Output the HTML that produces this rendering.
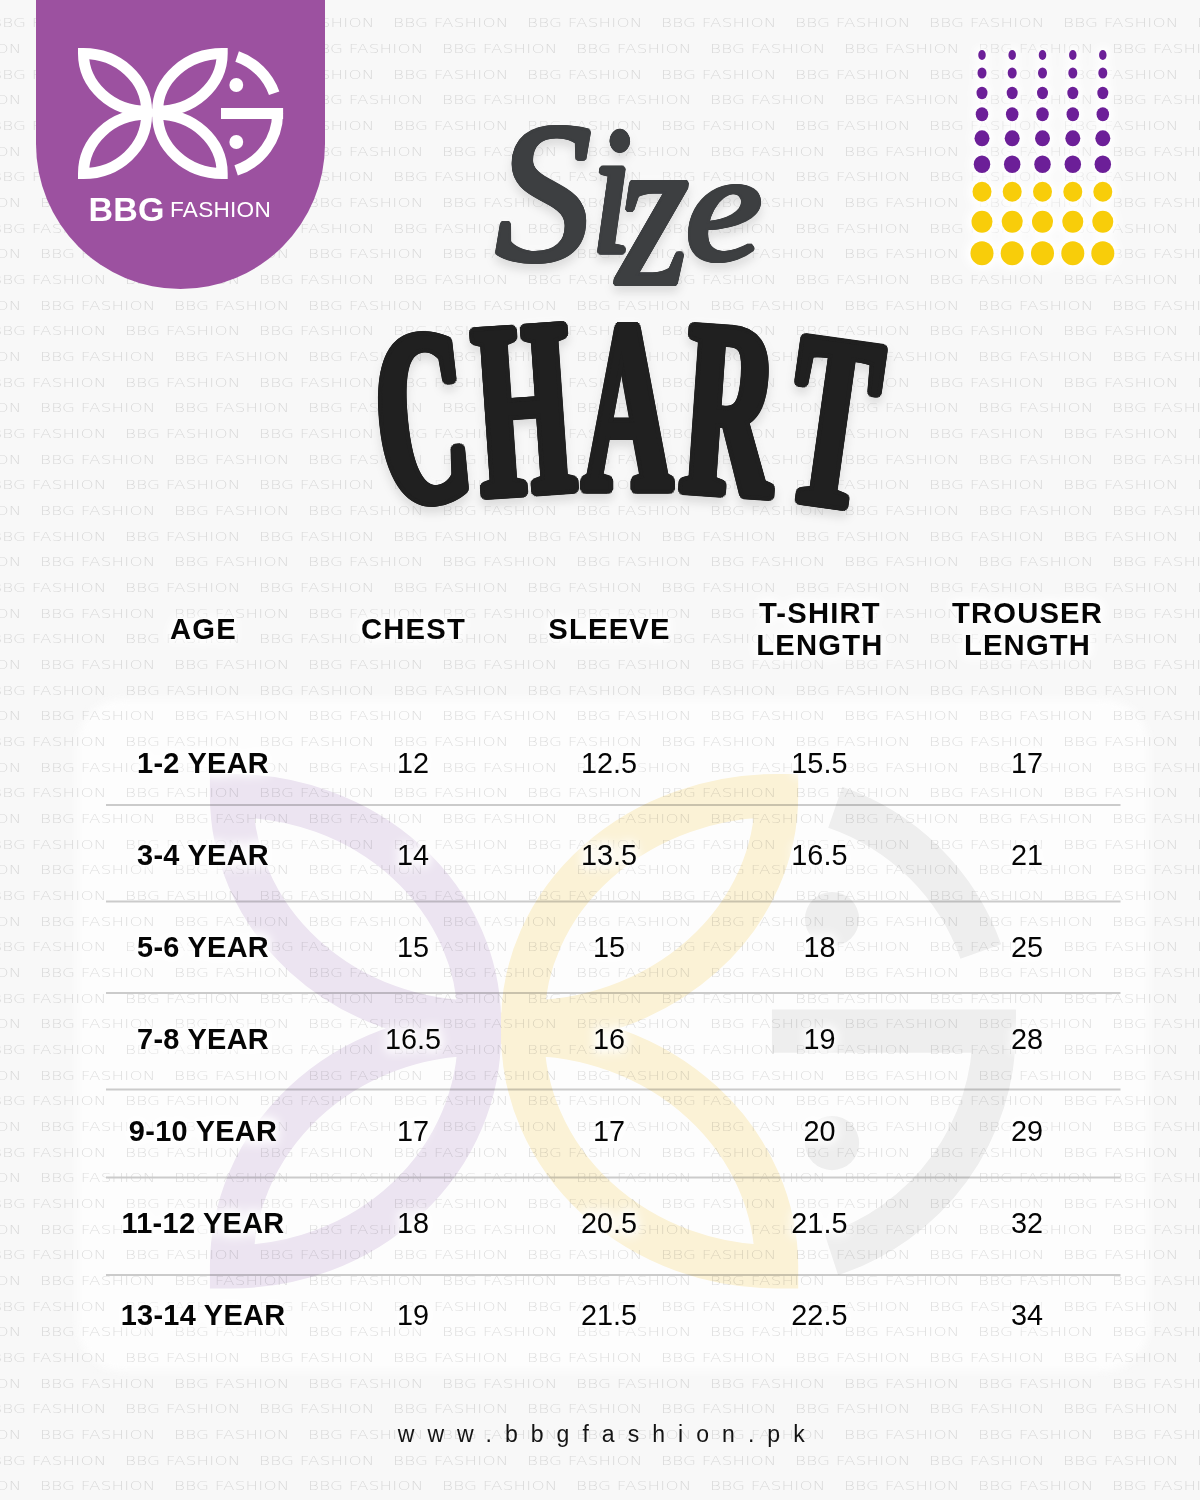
<!DOCTYPE html>
<html><head><meta charset="utf-8"><title>Size Chart - BBG Fashion</title>
<style>
html,body{margin:0;padding:0;}
body{width:1200px;height:1500px;overflow:hidden;background:#f8f8f8;position:relative;font-family:"Liberation Sans",Arial,sans-serif;}
.wm{position:absolute;left:0;top:0;width:1200px;height:1500px;overflow:hidden;}
.wr{position:absolute;left:0;width:1200px;height:16px;}
.wr span{position:absolute;top:0;font-family:"DejaVu Sans",sans-serif;font-size:12.9px;line-height:15px;letter-spacing:0.15px;color:rgba(0,0,0,0.13);font-weight:200;transform:scaleX(1.3);transform-origin:0 0;white-space:nowrap;}
.panel{position:absolute;left:77px;top:699px;width:1072px;height:672px;border-radius:46px;background:#fdfdfd;filter:blur(4px);}
.tab{position:absolute;left:36px;top:-2px;width:289px;height:291px;background:#9c51a0;border-radius:0 0 144.5px 144.5px / 0 0 145px 145px;}
.brand{position:absolute;left:88.6px;top:189px;white-space:nowrap;line-height:40px;color:#fff;font-size:22.6px;}
.brand b{font-size:34px;letter-spacing:0.2px;}
.brand span{font-size:22.6px;letter-spacing:0.25px;position:relative;top:-4.4px;margin-left:-1px;}
.b1{position:absolute;left:88.6px;top:189px;font-weight:bold;font-size:34px;line-height:40px;color:#fff;white-space:nowrap;letter-spacing:0.2px;}
.b2{position:absolute;left:171px;top:195px;font-size:22.6px;line-height:30px;color:#fff;letter-spacing:0.25px;white-space:nowrap;}
.url{position:absolute;left:0;width:1200px;top:1420px;text-align:center;font-size:23px;line-height:28px;letter-spacing:13.05px;color:#141414;padding-left:15.5px;box-sizing:border-box;}
svg{position:absolute;left:0;top:0;}
.ttl{position:absolute;left:0;top:0;width:1200px;height:600px;filter:drop-shadow(0 6px 5px rgba(0,0,0,0.13)) drop-shadow(0 0 5px rgba(255,255,255,0.95));}
.ttl h1,.ttl h2{position:absolute;left:0;top:0;margin:0;padding:0;font-size:100px;line-height:100px;white-space:nowrap;font-family:"Liberation Serif",serif;}
.ttl h1{font-style:italic;font-weight:normal;color:#3d3f41;}
.ttl h2{font-style:normal;font-weight:bold;color:#202020;}
.ttl span{display:inline-block;width:0;height:100px;vertical-align:top;transform-origin:0 0;}
</style></head><body>
<div class="panel"></div>
<div class="wm">
<div class="wr" style="top:15.2px"><span style="left:-142.7px">BBG FASHION</span><span style="left:-8.7px">BBG FASHION</span><span style="left:125.3px">BBG FASHION</span><span style="left:259.3px">BBG FASHION</span><span style="left:393.3px">BBG FASHION</span><span style="left:527.3px">BBG FASHION</span><span style="left:661.3px">BBG FASHION</span><span style="left:795.3px">BBG FASHION</span><span style="left:929.3px">BBG FASHION</span><span style="left:1063.3px">BBG FASHION</span><span style="left:1197.3px">BBG FASHION</span></div>
<div class="wr" style="top:40.9px"><span style="left:-228.3px">BBG FASHION</span><span style="left:-94.3px">BBG FASHION</span><span style="left:39.7px">BBG FASHION</span><span style="left:173.7px">BBG FASHION</span><span style="left:307.7px">BBG FASHION</span><span style="left:441.7px">BBG FASHION</span><span style="left:575.7px">BBG FASHION</span><span style="left:709.7px">BBG FASHION</span><span style="left:843.7px">BBG FASHION</span><span style="left:977.7px">BBG FASHION</span><span style="left:1111.7px">BBG FASHION</span></div>
<div class="wr" style="top:66.5px"><span style="left:-142.7px">BBG FASHION</span><span style="left:-8.7px">BBG FASHION</span><span style="left:125.3px">BBG FASHION</span><span style="left:259.3px">BBG FASHION</span><span style="left:393.3px">BBG FASHION</span><span style="left:527.3px">BBG FASHION</span><span style="left:661.3px">BBG FASHION</span><span style="left:795.3px">BBG FASHION</span><span style="left:929.3px">BBG FASHION</span><span style="left:1063.3px">BBG FASHION</span><span style="left:1197.3px">BBG FASHION</span></div>
<div class="wr" style="top:92.2px"><span style="left:-228.3px">BBG FASHION</span><span style="left:-94.3px">BBG FASHION</span><span style="left:39.7px">BBG FASHION</span><span style="left:173.7px">BBG FASHION</span><span style="left:307.7px">BBG FASHION</span><span style="left:441.7px">BBG FASHION</span><span style="left:575.7px">BBG FASHION</span><span style="left:709.7px">BBG FASHION</span><span style="left:843.7px">BBG FASHION</span><span style="left:977.7px">BBG FASHION</span><span style="left:1111.7px">BBG FASHION</span></div>
<div class="wr" style="top:117.9px"><span style="left:-142.7px">BBG FASHION</span><span style="left:-8.7px">BBG FASHION</span><span style="left:125.3px">BBG FASHION</span><span style="left:259.3px">BBG FASHION</span><span style="left:393.3px">BBG FASHION</span><span style="left:527.3px">BBG FASHION</span><span style="left:661.3px">BBG FASHION</span><span style="left:795.3px">BBG FASHION</span><span style="left:929.3px">BBG FASHION</span><span style="left:1063.3px">BBG FASHION</span><span style="left:1197.3px">BBG FASHION</span></div>
<div class="wr" style="top:143.6px"><span style="left:-228.3px">BBG FASHION</span><span style="left:-94.3px">BBG FASHION</span><span style="left:39.7px">BBG FASHION</span><span style="left:173.7px">BBG FASHION</span><span style="left:307.7px">BBG FASHION</span><span style="left:441.7px">BBG FASHION</span><span style="left:575.7px">BBG FASHION</span><span style="left:709.7px">BBG FASHION</span><span style="left:843.7px">BBG FASHION</span><span style="left:977.7px">BBG FASHION</span><span style="left:1111.7px">BBG FASHION</span></div>
<div class="wr" style="top:169.2px"><span style="left:-142.7px">BBG FASHION</span><span style="left:-8.7px">BBG FASHION</span><span style="left:125.3px">BBG FASHION</span><span style="left:259.3px">BBG FASHION</span><span style="left:393.3px">BBG FASHION</span><span style="left:527.3px">BBG FASHION</span><span style="left:661.3px">BBG FASHION</span><span style="left:795.3px">BBG FASHION</span><span style="left:929.3px">BBG FASHION</span><span style="left:1063.3px">BBG FASHION</span><span style="left:1197.3px">BBG FASHION</span></div>
<div class="wr" style="top:194.9px"><span style="left:-228.3px">BBG FASHION</span><span style="left:-94.3px">BBG FASHION</span><span style="left:39.7px">BBG FASHION</span><span style="left:173.7px">BBG FASHION</span><span style="left:307.7px">BBG FASHION</span><span style="left:441.7px">BBG FASHION</span><span style="left:575.7px">BBG FASHION</span><span style="left:709.7px">BBG FASHION</span><span style="left:843.7px">BBG FASHION</span><span style="left:977.7px">BBG FASHION</span><span style="left:1111.7px">BBG FASHION</span></div>
<div class="wr" style="top:220.6px"><span style="left:-142.7px">BBG FASHION</span><span style="left:-8.7px">BBG FASHION</span><span style="left:125.3px">BBG FASHION</span><span style="left:259.3px">BBG FASHION</span><span style="left:393.3px">BBG FASHION</span><span style="left:527.3px">BBG FASHION</span><span style="left:661.3px">BBG FASHION</span><span style="left:795.3px">BBG FASHION</span><span style="left:929.3px">BBG FASHION</span><span style="left:1063.3px">BBG FASHION</span><span style="left:1197.3px">BBG FASHION</span></div>
<div class="wr" style="top:246.2px"><span style="left:-228.3px">BBG FASHION</span><span style="left:-94.3px">BBG FASHION</span><span style="left:39.7px">BBG FASHION</span><span style="left:173.7px">BBG FASHION</span><span style="left:307.7px">BBG FASHION</span><span style="left:441.7px">BBG FASHION</span><span style="left:575.7px">BBG FASHION</span><span style="left:709.7px">BBG FASHION</span><span style="left:843.7px">BBG FASHION</span><span style="left:977.7px">BBG FASHION</span><span style="left:1111.7px">BBG FASHION</span></div>
<div class="wr" style="top:271.9px"><span style="left:-142.7px">BBG FASHION</span><span style="left:-8.7px">BBG FASHION</span><span style="left:125.3px">BBG FASHION</span><span style="left:259.3px">BBG FASHION</span><span style="left:393.3px">BBG FASHION</span><span style="left:527.3px">BBG FASHION</span><span style="left:661.3px">BBG FASHION</span><span style="left:795.3px">BBG FASHION</span><span style="left:929.3px">BBG FASHION</span><span style="left:1063.3px">BBG FASHION</span><span style="left:1197.3px">BBG FASHION</span></div>
<div class="wr" style="top:297.6px"><span style="left:-228.3px">BBG FASHION</span><span style="left:-94.3px">BBG FASHION</span><span style="left:39.7px">BBG FASHION</span><span style="left:173.7px">BBG FASHION</span><span style="left:307.7px">BBG FASHION</span><span style="left:441.7px">BBG FASHION</span><span style="left:575.7px">BBG FASHION</span><span style="left:709.7px">BBG FASHION</span><span style="left:843.7px">BBG FASHION</span><span style="left:977.7px">BBG FASHION</span><span style="left:1111.7px">BBG FASHION</span></div>
<div class="wr" style="top:323.2px"><span style="left:-142.7px">BBG FASHION</span><span style="left:-8.7px">BBG FASHION</span><span style="left:125.3px">BBG FASHION</span><span style="left:259.3px">BBG FASHION</span><span style="left:393.3px">BBG FASHION</span><span style="left:527.3px">BBG FASHION</span><span style="left:661.3px">BBG FASHION</span><span style="left:795.3px">BBG FASHION</span><span style="left:929.3px">BBG FASHION</span><span style="left:1063.3px">BBG FASHION</span><span style="left:1197.3px">BBG FASHION</span></div>
<div class="wr" style="top:348.9px"><span style="left:-228.3px">BBG FASHION</span><span style="left:-94.3px">BBG FASHION</span><span style="left:39.7px">BBG FASHION</span><span style="left:173.7px">BBG FASHION</span><span style="left:307.7px">BBG FASHION</span><span style="left:441.7px">BBG FASHION</span><span style="left:575.7px">BBG FASHION</span><span style="left:709.7px">BBG FASHION</span><span style="left:843.7px">BBG FASHION</span><span style="left:977.7px">BBG FASHION</span><span style="left:1111.7px">BBG FASHION</span></div>
<div class="wr" style="top:374.6px"><span style="left:-142.7px">BBG FASHION</span><span style="left:-8.7px">BBG FASHION</span><span style="left:125.3px">BBG FASHION</span><span style="left:259.3px">BBG FASHION</span><span style="left:393.3px">BBG FASHION</span><span style="left:527.3px">BBG FASHION</span><span style="left:661.3px">BBG FASHION</span><span style="left:795.3px">BBG FASHION</span><span style="left:929.3px">BBG FASHION</span><span style="left:1063.3px">BBG FASHION</span><span style="left:1197.3px">BBG FASHION</span></div>
<div class="wr" style="top:400.2px"><span style="left:-228.3px">BBG FASHION</span><span style="left:-94.3px">BBG FASHION</span><span style="left:39.7px">BBG FASHION</span><span style="left:173.7px">BBG FASHION</span><span style="left:307.7px">BBG FASHION</span><span style="left:441.7px">BBG FASHION</span><span style="left:575.7px">BBG FASHION</span><span style="left:709.7px">BBG FASHION</span><span style="left:843.7px">BBG FASHION</span><span style="left:977.7px">BBG FASHION</span><span style="left:1111.7px">BBG FASHION</span></div>
<div class="wr" style="top:425.9px"><span style="left:-142.7px">BBG FASHION</span><span style="left:-8.7px">BBG FASHION</span><span style="left:125.3px">BBG FASHION</span><span style="left:259.3px">BBG FASHION</span><span style="left:393.3px">BBG FASHION</span><span style="left:527.3px">BBG FASHION</span><span style="left:661.3px">BBG FASHION</span><span style="left:795.3px">BBG FASHION</span><span style="left:929.3px">BBG FASHION</span><span style="left:1063.3px">BBG FASHION</span><span style="left:1197.3px">BBG FASHION</span></div>
<div class="wr" style="top:451.6px"><span style="left:-228.3px">BBG FASHION</span><span style="left:-94.3px">BBG FASHION</span><span style="left:39.7px">BBG FASHION</span><span style="left:173.7px">BBG FASHION</span><span style="left:307.7px">BBG FASHION</span><span style="left:441.7px">BBG FASHION</span><span style="left:575.7px">BBG FASHION</span><span style="left:709.7px">BBG FASHION</span><span style="left:843.7px">BBG FASHION</span><span style="left:977.7px">BBG FASHION</span><span style="left:1111.7px">BBG FASHION</span></div>
<div class="wr" style="top:477.3px"><span style="left:-142.7px">BBG FASHION</span><span style="left:-8.7px">BBG FASHION</span><span style="left:125.3px">BBG FASHION</span><span style="left:259.3px">BBG FASHION</span><span style="left:393.3px">BBG FASHION</span><span style="left:527.3px">BBG FASHION</span><span style="left:661.3px">BBG FASHION</span><span style="left:795.3px">BBG FASHION</span><span style="left:929.3px">BBG FASHION</span><span style="left:1063.3px">BBG FASHION</span><span style="left:1197.3px">BBG FASHION</span></div>
<div class="wr" style="top:502.9px"><span style="left:-228.3px">BBG FASHION</span><span style="left:-94.3px">BBG FASHION</span><span style="left:39.7px">BBG FASHION</span><span style="left:173.7px">BBG FASHION</span><span style="left:307.7px">BBG FASHION</span><span style="left:441.7px">BBG FASHION</span><span style="left:575.7px">BBG FASHION</span><span style="left:709.7px">BBG FASHION</span><span style="left:843.7px">BBG FASHION</span><span style="left:977.7px">BBG FASHION</span><span style="left:1111.7px">BBG FASHION</span></div>
<div class="wr" style="top:528.6px"><span style="left:-142.7px">BBG FASHION</span><span style="left:-8.7px">BBG FASHION</span><span style="left:125.3px">BBG FASHION</span><span style="left:259.3px">BBG FASHION</span><span style="left:393.3px">BBG FASHION</span><span style="left:527.3px">BBG FASHION</span><span style="left:661.3px">BBG FASHION</span><span style="left:795.3px">BBG FASHION</span><span style="left:929.3px">BBG FASHION</span><span style="left:1063.3px">BBG FASHION</span><span style="left:1197.3px">BBG FASHION</span></div>
<div class="wr" style="top:554.3px"><span style="left:-228.3px">BBG FASHION</span><span style="left:-94.3px">BBG FASHION</span><span style="left:39.7px">BBG FASHION</span><span style="left:173.7px">BBG FASHION</span><span style="left:307.7px">BBG FASHION</span><span style="left:441.7px">BBG FASHION</span><span style="left:575.7px">BBG FASHION</span><span style="left:709.7px">BBG FASHION</span><span style="left:843.7px">BBG FASHION</span><span style="left:977.7px">BBG FASHION</span><span style="left:1111.7px">BBG FASHION</span></div>
<div class="wr" style="top:579.9px"><span style="left:-142.7px">BBG FASHION</span><span style="left:-8.7px">BBG FASHION</span><span style="left:125.3px">BBG FASHION</span><span style="left:259.3px">BBG FASHION</span><span style="left:393.3px">BBG FASHION</span><span style="left:527.3px">BBG FASHION</span><span style="left:661.3px">BBG FASHION</span><span style="left:795.3px">BBG FASHION</span><span style="left:929.3px">BBG FASHION</span><span style="left:1063.3px">BBG FASHION</span><span style="left:1197.3px">BBG FASHION</span></div>
<div class="wr" style="top:605.6px"><span style="left:-228.3px">BBG FASHION</span><span style="left:-94.3px">BBG FASHION</span><span style="left:39.7px">BBG FASHION</span><span style="left:173.7px">BBG FASHION</span><span style="left:307.7px">BBG FASHION</span><span style="left:441.7px">BBG FASHION</span><span style="left:575.7px">BBG FASHION</span><span style="left:709.7px">BBG FASHION</span><span style="left:843.7px">BBG FASHION</span><span style="left:977.7px">BBG FASHION</span><span style="left:1111.7px">BBG FASHION</span></div>
<div class="wr" style="top:631.3px"><span style="left:-142.7px">BBG FASHION</span><span style="left:-8.7px">BBG FASHION</span><span style="left:125.3px">BBG FASHION</span><span style="left:259.3px">BBG FASHION</span><span style="left:393.3px">BBG FASHION</span><span style="left:527.3px">BBG FASHION</span><span style="left:661.3px">BBG FASHION</span><span style="left:795.3px">BBG FASHION</span><span style="left:929.3px">BBG FASHION</span><span style="left:1063.3px">BBG FASHION</span><span style="left:1197.3px">BBG FASHION</span></div>
<div class="wr" style="top:657.0px"><span style="left:-228.3px">BBG FASHION</span><span style="left:-94.3px">BBG FASHION</span><span style="left:39.7px">BBG FASHION</span><span style="left:173.7px">BBG FASHION</span><span style="left:307.7px">BBG FASHION</span><span style="left:441.7px">BBG FASHION</span><span style="left:575.7px">BBG FASHION</span><span style="left:709.7px">BBG FASHION</span><span style="left:843.7px">BBG FASHION</span><span style="left:977.7px">BBG FASHION</span><span style="left:1111.7px">BBG FASHION</span></div>
<div class="wr" style="top:682.6px"><span style="left:-142.7px">BBG FASHION</span><span style="left:-8.7px">BBG FASHION</span><span style="left:125.3px">BBG FASHION</span><span style="left:259.3px">BBG FASHION</span><span style="left:393.3px">BBG FASHION</span><span style="left:527.3px">BBG FASHION</span><span style="left:661.3px">BBG FASHION</span><span style="left:795.3px">BBG FASHION</span><span style="left:929.3px">BBG FASHION</span><span style="left:1063.3px">BBG FASHION</span><span style="left:1197.3px">BBG FASHION</span></div>
<div class="wr" style="top:708.3px"><span style="left:-228.3px">BBG FASHION</span><span style="left:-94.3px">BBG FASHION</span><span style="left:39.7px">BBG FASHION</span><span style="left:173.7px">BBG FASHION</span><span style="left:307.7px">BBG FASHION</span><span style="left:441.7px">BBG FASHION</span><span style="left:575.7px">BBG FASHION</span><span style="left:709.7px">BBG FASHION</span><span style="left:843.7px">BBG FASHION</span><span style="left:977.7px">BBG FASHION</span><span style="left:1111.7px">BBG FASHION</span></div>
<div class="wr" style="top:734.0px"><span style="left:-142.7px">BBG FASHION</span><span style="left:-8.7px">BBG FASHION</span><span style="left:125.3px">BBG FASHION</span><span style="left:259.3px">BBG FASHION</span><span style="left:393.3px">BBG FASHION</span><span style="left:527.3px">BBG FASHION</span><span style="left:661.3px">BBG FASHION</span><span style="left:795.3px">BBG FASHION</span><span style="left:929.3px">BBG FASHION</span><span style="left:1063.3px">BBG FASHION</span><span style="left:1197.3px">BBG FASHION</span></div>
<div class="wr" style="top:759.6px"><span style="left:-228.3px">BBG FASHION</span><span style="left:-94.3px">BBG FASHION</span><span style="left:39.7px">BBG FASHION</span><span style="left:173.7px">BBG FASHION</span><span style="left:307.7px">BBG FASHION</span><span style="left:441.7px">BBG FASHION</span><span style="left:575.7px">BBG FASHION</span><span style="left:709.7px">BBG FASHION</span><span style="left:843.7px">BBG FASHION</span><span style="left:977.7px">BBG FASHION</span><span style="left:1111.7px">BBG FASHION</span></div>
<div class="wr" style="top:785.3px"><span style="left:-142.7px">BBG FASHION</span><span style="left:-8.7px">BBG FASHION</span><span style="left:125.3px">BBG FASHION</span><span style="left:259.3px">BBG FASHION</span><span style="left:393.3px">BBG FASHION</span><span style="left:527.3px">BBG FASHION</span><span style="left:661.3px">BBG FASHION</span><span style="left:795.3px">BBG FASHION</span><span style="left:929.3px">BBG FASHION</span><span style="left:1063.3px">BBG FASHION</span><span style="left:1197.3px">BBG FASHION</span></div>
<div class="wr" style="top:811.0px"><span style="left:-228.3px">BBG FASHION</span><span style="left:-94.3px">BBG FASHION</span><span style="left:39.7px">BBG FASHION</span><span style="left:173.7px">BBG FASHION</span><span style="left:307.7px">BBG FASHION</span><span style="left:441.7px">BBG FASHION</span><span style="left:575.7px">BBG FASHION</span><span style="left:709.7px">BBG FASHION</span><span style="left:843.7px">BBG FASHION</span><span style="left:977.7px">BBG FASHION</span><span style="left:1111.7px">BBG FASHION</span></div>
<div class="wr" style="top:836.6px"><span style="left:-142.7px">BBG FASHION</span><span style="left:-8.7px">BBG FASHION</span><span style="left:125.3px">BBG FASHION</span><span style="left:259.3px">BBG FASHION</span><span style="left:393.3px">BBG FASHION</span><span style="left:527.3px">BBG FASHION</span><span style="left:661.3px">BBG FASHION</span><span style="left:795.3px">BBG FASHION</span><span style="left:929.3px">BBG FASHION</span><span style="left:1063.3px">BBG FASHION</span><span style="left:1197.3px">BBG FASHION</span></div>
<div class="wr" style="top:862.3px"><span style="left:-228.3px">BBG FASHION</span><span style="left:-94.3px">BBG FASHION</span><span style="left:39.7px">BBG FASHION</span><span style="left:173.7px">BBG FASHION</span><span style="left:307.7px">BBG FASHION</span><span style="left:441.7px">BBG FASHION</span><span style="left:575.7px">BBG FASHION</span><span style="left:709.7px">BBG FASHION</span><span style="left:843.7px">BBG FASHION</span><span style="left:977.7px">BBG FASHION</span><span style="left:1111.7px">BBG FASHION</span></div>
<div class="wr" style="top:888.0px"><span style="left:-142.7px">BBG FASHION</span><span style="left:-8.7px">BBG FASHION</span><span style="left:125.3px">BBG FASHION</span><span style="left:259.3px">BBG FASHION</span><span style="left:393.3px">BBG FASHION</span><span style="left:527.3px">BBG FASHION</span><span style="left:661.3px">BBG FASHION</span><span style="left:795.3px">BBG FASHION</span><span style="left:929.3px">BBG FASHION</span><span style="left:1063.3px">BBG FASHION</span><span style="left:1197.3px">BBG FASHION</span></div>
<div class="wr" style="top:913.7px"><span style="left:-228.3px">BBG FASHION</span><span style="left:-94.3px">BBG FASHION</span><span style="left:39.7px">BBG FASHION</span><span style="left:173.7px">BBG FASHION</span><span style="left:307.7px">BBG FASHION</span><span style="left:441.7px">BBG FASHION</span><span style="left:575.7px">BBG FASHION</span><span style="left:709.7px">BBG FASHION</span><span style="left:843.7px">BBG FASHION</span><span style="left:977.7px">BBG FASHION</span><span style="left:1111.7px">BBG FASHION</span></div>
<div class="wr" style="top:939.3px"><span style="left:-142.7px">BBG FASHION</span><span style="left:-8.7px">BBG FASHION</span><span style="left:125.3px">BBG FASHION</span><span style="left:259.3px">BBG FASHION</span><span style="left:393.3px">BBG FASHION</span><span style="left:527.3px">BBG FASHION</span><span style="left:661.3px">BBG FASHION</span><span style="left:795.3px">BBG FASHION</span><span style="left:929.3px">BBG FASHION</span><span style="left:1063.3px">BBG FASHION</span><span style="left:1197.3px">BBG FASHION</span></div>
<div class="wr" style="top:965.0px"><span style="left:-228.3px">BBG FASHION</span><span style="left:-94.3px">BBG FASHION</span><span style="left:39.7px">BBG FASHION</span><span style="left:173.7px">BBG FASHION</span><span style="left:307.7px">BBG FASHION</span><span style="left:441.7px">BBG FASHION</span><span style="left:575.7px">BBG FASHION</span><span style="left:709.7px">BBG FASHION</span><span style="left:843.7px">BBG FASHION</span><span style="left:977.7px">BBG FASHION</span><span style="left:1111.7px">BBG FASHION</span></div>
<div class="wr" style="top:990.7px"><span style="left:-142.7px">BBG FASHION</span><span style="left:-8.7px">BBG FASHION</span><span style="left:125.3px">BBG FASHION</span><span style="left:259.3px">BBG FASHION</span><span style="left:393.3px">BBG FASHION</span><span style="left:527.3px">BBG FASHION</span><span style="left:661.3px">BBG FASHION</span><span style="left:795.3px">BBG FASHION</span><span style="left:929.3px">BBG FASHION</span><span style="left:1063.3px">BBG FASHION</span><span style="left:1197.3px">BBG FASHION</span></div>
<div class="wr" style="top:1016.3px"><span style="left:-228.3px">BBG FASHION</span><span style="left:-94.3px">BBG FASHION</span><span style="left:39.7px">BBG FASHION</span><span style="left:173.7px">BBG FASHION</span><span style="left:307.7px">BBG FASHION</span><span style="left:441.7px">BBG FASHION</span><span style="left:575.7px">BBG FASHION</span><span style="left:709.7px">BBG FASHION</span><span style="left:843.7px">BBG FASHION</span><span style="left:977.7px">BBG FASHION</span><span style="left:1111.7px">BBG FASHION</span></div>
<div class="wr" style="top:1042.0px"><span style="left:-142.7px">BBG FASHION</span><span style="left:-8.7px">BBG FASHION</span><span style="left:125.3px">BBG FASHION</span><span style="left:259.3px">BBG FASHION</span><span style="left:393.3px">BBG FASHION</span><span style="left:527.3px">BBG FASHION</span><span style="left:661.3px">BBG FASHION</span><span style="left:795.3px">BBG FASHION</span><span style="left:929.3px">BBG FASHION</span><span style="left:1063.3px">BBG FASHION</span><span style="left:1197.3px">BBG FASHION</span></div>
<div class="wr" style="top:1067.7px"><span style="left:-228.3px">BBG FASHION</span><span style="left:-94.3px">BBG FASHION</span><span style="left:39.7px">BBG FASHION</span><span style="left:173.7px">BBG FASHION</span><span style="left:307.7px">BBG FASHION</span><span style="left:441.7px">BBG FASHION</span><span style="left:575.7px">BBG FASHION</span><span style="left:709.7px">BBG FASHION</span><span style="left:843.7px">BBG FASHION</span><span style="left:977.7px">BBG FASHION</span><span style="left:1111.7px">BBG FASHION</span></div>
<div class="wr" style="top:1093.3px"><span style="left:-142.7px">BBG FASHION</span><span style="left:-8.7px">BBG FASHION</span><span style="left:125.3px">BBG FASHION</span><span style="left:259.3px">BBG FASHION</span><span style="left:393.3px">BBG FASHION</span><span style="left:527.3px">BBG FASHION</span><span style="left:661.3px">BBG FASHION</span><span style="left:795.3px">BBG FASHION</span><span style="left:929.3px">BBG FASHION</span><span style="left:1063.3px">BBG FASHION</span><span style="left:1197.3px">BBG FASHION</span></div>
<div class="wr" style="top:1119.0px"><span style="left:-228.3px">BBG FASHION</span><span style="left:-94.3px">BBG FASHION</span><span style="left:39.7px">BBG FASHION</span><span style="left:173.7px">BBG FASHION</span><span style="left:307.7px">BBG FASHION</span><span style="left:441.7px">BBG FASHION</span><span style="left:575.7px">BBG FASHION</span><span style="left:709.7px">BBG FASHION</span><span style="left:843.7px">BBG FASHION</span><span style="left:977.7px">BBG FASHION</span><span style="left:1111.7px">BBG FASHION</span></div>
<div class="wr" style="top:1144.7px"><span style="left:-142.7px">BBG FASHION</span><span style="left:-8.7px">BBG FASHION</span><span style="left:125.3px">BBG FASHION</span><span style="left:259.3px">BBG FASHION</span><span style="left:393.3px">BBG FASHION</span><span style="left:527.3px">BBG FASHION</span><span style="left:661.3px">BBG FASHION</span><span style="left:795.3px">BBG FASHION</span><span style="left:929.3px">BBG FASHION</span><span style="left:1063.3px">BBG FASHION</span><span style="left:1197.3px">BBG FASHION</span></div>
<div class="wr" style="top:1170.4px"><span style="left:-228.3px">BBG FASHION</span><span style="left:-94.3px">BBG FASHION</span><span style="left:39.7px">BBG FASHION</span><span style="left:173.7px">BBG FASHION</span><span style="left:307.7px">BBG FASHION</span><span style="left:441.7px">BBG FASHION</span><span style="left:575.7px">BBG FASHION</span><span style="left:709.7px">BBG FASHION</span><span style="left:843.7px">BBG FASHION</span><span style="left:977.7px">BBG FASHION</span><span style="left:1111.7px">BBG FASHION</span></div>
<div class="wr" style="top:1196.0px"><span style="left:-142.7px">BBG FASHION</span><span style="left:-8.7px">BBG FASHION</span><span style="left:125.3px">BBG FASHION</span><span style="left:259.3px">BBG FASHION</span><span style="left:393.3px">BBG FASHION</span><span style="left:527.3px">BBG FASHION</span><span style="left:661.3px">BBG FASHION</span><span style="left:795.3px">BBG FASHION</span><span style="left:929.3px">BBG FASHION</span><span style="left:1063.3px">BBG FASHION</span><span style="left:1197.3px">BBG FASHION</span></div>
<div class="wr" style="top:1221.7px"><span style="left:-228.3px">BBG FASHION</span><span style="left:-94.3px">BBG FASHION</span><span style="left:39.7px">BBG FASHION</span><span style="left:173.7px">BBG FASHION</span><span style="left:307.7px">BBG FASHION</span><span style="left:441.7px">BBG FASHION</span><span style="left:575.7px">BBG FASHION</span><span style="left:709.7px">BBG FASHION</span><span style="left:843.7px">BBG FASHION</span><span style="left:977.7px">BBG FASHION</span><span style="left:1111.7px">BBG FASHION</span></div>
<div class="wr" style="top:1247.4px"><span style="left:-142.7px">BBG FASHION</span><span style="left:-8.7px">BBG FASHION</span><span style="left:125.3px">BBG FASHION</span><span style="left:259.3px">BBG FASHION</span><span style="left:393.3px">BBG FASHION</span><span style="left:527.3px">BBG FASHION</span><span style="left:661.3px">BBG FASHION</span><span style="left:795.3px">BBG FASHION</span><span style="left:929.3px">BBG FASHION</span><span style="left:1063.3px">BBG FASHION</span><span style="left:1197.3px">BBG FASHION</span></div>
<div class="wr" style="top:1273.0px"><span style="left:-228.3px">BBG FASHION</span><span style="left:-94.3px">BBG FASHION</span><span style="left:39.7px">BBG FASHION</span><span style="left:173.7px">BBG FASHION</span><span style="left:307.7px">BBG FASHION</span><span style="left:441.7px">BBG FASHION</span><span style="left:575.7px">BBG FASHION</span><span style="left:709.7px">BBG FASHION</span><span style="left:843.7px">BBG FASHION</span><span style="left:977.7px">BBG FASHION</span><span style="left:1111.7px">BBG FASHION</span></div>
<div class="wr" style="top:1298.7px"><span style="left:-142.7px">BBG FASHION</span><span style="left:-8.7px">BBG FASHION</span><span style="left:125.3px">BBG FASHION</span><span style="left:259.3px">BBG FASHION</span><span style="left:393.3px">BBG FASHION</span><span style="left:527.3px">BBG FASHION</span><span style="left:661.3px">BBG FASHION</span><span style="left:795.3px">BBG FASHION</span><span style="left:929.3px">BBG FASHION</span><span style="left:1063.3px">BBG FASHION</span><span style="left:1197.3px">BBG FASHION</span></div>
<div class="wr" style="top:1324.4px"><span style="left:-228.3px">BBG FASHION</span><span style="left:-94.3px">BBG FASHION</span><span style="left:39.7px">BBG FASHION</span><span style="left:173.7px">BBG FASHION</span><span style="left:307.7px">BBG FASHION</span><span style="left:441.7px">BBG FASHION</span><span style="left:575.7px">BBG FASHION</span><span style="left:709.7px">BBG FASHION</span><span style="left:843.7px">BBG FASHION</span><span style="left:977.7px">BBG FASHION</span><span style="left:1111.7px">BBG FASHION</span></div>
<div class="wr" style="top:1350.0px"><span style="left:-142.7px">BBG FASHION</span><span style="left:-8.7px">BBG FASHION</span><span style="left:125.3px">BBG FASHION</span><span style="left:259.3px">BBG FASHION</span><span style="left:393.3px">BBG FASHION</span><span style="left:527.3px">BBG FASHION</span><span style="left:661.3px">BBG FASHION</span><span style="left:795.3px">BBG FASHION</span><span style="left:929.3px">BBG FASHION</span><span style="left:1063.3px">BBG FASHION</span><span style="left:1197.3px">BBG FASHION</span></div>
<div class="wr" style="top:1375.7px"><span style="left:-228.3px">BBG FASHION</span><span style="left:-94.3px">BBG FASHION</span><span style="left:39.7px">BBG FASHION</span><span style="left:173.7px">BBG FASHION</span><span style="left:307.7px">BBG FASHION</span><span style="left:441.7px">BBG FASHION</span><span style="left:575.7px">BBG FASHION</span><span style="left:709.7px">BBG FASHION</span><span style="left:843.7px">BBG FASHION</span><span style="left:977.7px">BBG FASHION</span><span style="left:1111.7px">BBG FASHION</span></div>
<div class="wr" style="top:1401.4px"><span style="left:-142.7px">BBG FASHION</span><span style="left:-8.7px">BBG FASHION</span><span style="left:125.3px">BBG FASHION</span><span style="left:259.3px">BBG FASHION</span><span style="left:393.3px">BBG FASHION</span><span style="left:527.3px">BBG FASHION</span><span style="left:661.3px">BBG FASHION</span><span style="left:795.3px">BBG FASHION</span><span style="left:929.3px">BBG FASHION</span><span style="left:1063.3px">BBG FASHION</span><span style="left:1197.3px">BBG FASHION</span></div>
<div class="wr" style="top:1427.1px"><span style="left:-228.3px">BBG FASHION</span><span style="left:-94.3px">BBG FASHION</span><span style="left:39.7px">BBG FASHION</span><span style="left:173.7px">BBG FASHION</span><span style="left:307.7px">BBG FASHION</span><span style="left:441.7px">BBG FASHION</span><span style="left:575.7px">BBG FASHION</span><span style="left:709.7px">BBG FASHION</span><span style="left:843.7px">BBG FASHION</span><span style="left:977.7px">BBG FASHION</span><span style="left:1111.7px">BBG FASHION</span></div>
<div class="wr" style="top:1452.7px"><span style="left:-142.7px">BBG FASHION</span><span style="left:-8.7px">BBG FASHION</span><span style="left:125.3px">BBG FASHION</span><span style="left:259.3px">BBG FASHION</span><span style="left:393.3px">BBG FASHION</span><span style="left:527.3px">BBG FASHION</span><span style="left:661.3px">BBG FASHION</span><span style="left:795.3px">BBG FASHION</span><span style="left:929.3px">BBG FASHION</span><span style="left:1063.3px">BBG FASHION</span><span style="left:1197.3px">BBG FASHION</span></div>
<div class="wr" style="top:1478.4px"><span style="left:-228.3px">BBG FASHION</span><span style="left:-94.3px">BBG FASHION</span><span style="left:39.7px">BBG FASHION</span><span style="left:173.7px">BBG FASHION</span><span style="left:307.7px">BBG FASHION</span><span style="left:441.7px">BBG FASHION</span><span style="left:575.7px">BBG FASHION</span><span style="left:709.7px">BBG FASHION</span><span style="left:843.7px">BBG FASHION</span><span style="left:977.7px">BBG FASHION</span><span style="left:1111.7px">BBG FASHION</span></div>
<div class="wr" style="top:1504.1px"><span style="left:-142.7px">BBG FASHION</span><span style="left:-8.7px">BBG FASHION</span><span style="left:125.3px">BBG FASHION</span><span style="left:259.3px">BBG FASHION</span><span style="left:393.3px">BBG FASHION</span><span style="left:527.3px">BBG FASHION</span><span style="left:661.3px">BBG FASHION</span><span style="left:795.3px">BBG FASHION</span><span style="left:929.3px">BBG FASHION</span><span style="left:1063.3px">BBG FASHION</span><span style="left:1197.3px">BBG FASHION</span></div>
</div>
<svg width="1200" height="1500" viewBox="0 0 1200 1500">
<rect x="106" y="804.0" width="1014.5" height="2" fill="#cbcbcb"/>
<rect x="106" y="900.5" width="1014.5" height="2" fill="#cbcbcb"/>
<rect x="106" y="992.0" width="1014.5" height="2" fill="#cbcbcb"/>
<rect x="106" y="1088.5" width="1014.5" height="2" fill="#cbcbcb"/>
<rect x="106" y="1176.5" width="1014.5" height="2" fill="#cbcbcb"/>
<rect x="106" y="1274.0" width="1014.5" height="2" fill="#cbcbcb"/>
</svg>
<svg width="1200" height="1500" viewBox="0 0 1200 1500" style="mix-blend-mode:multiply">
<g transform="translate(-96.64 584.96) scale(3.930)" fill="none" stroke-width="11" stroke-miterlimit="10">
<path d="M83.50 53.60 A63.10 57.70 0 0 1 146.60 111.30 A63.10 57.70 0 0 1 83.50 53.60 Z" stroke="#eee6f3" stroke-linejoin="miter"/>
<path d="M146.60 114.30 A63.10 59.20 0 0 1 83.50 173.50 A63.10 59.20 0 0 1 146.60 114.30 Z" stroke="#eee6f3" stroke-linejoin="miter"/>
<path d="M157.60 111.30 A64.60 57.70 0 0 1 222.20 53.60 A64.60 57.70 0 0 1 157.60 111.30 Z" stroke="#fdf4d8" stroke-linejoin="miter"/>
<path d="M222.20 173.50 A64.60 59.20 0 0 1 157.60 114.30 A64.60 59.20 0 0 1 222.20 173.50 Z" stroke="#fdf4d8" stroke-linejoin="miter"/>
<path d="M237.13 56.57 A60.00 60.00 0 0 1 274.16 93.27" stroke="#f0f0f0" stroke-linecap="butt"/>
<path d="M221 113.5 L283.10 113.5" stroke="#f0f0f0" stroke-linecap="butt"/>
<path d="M277.60 113.30 A60.00 60.00 0 0 1 236.14 170.36" stroke="#f0f0f0" stroke-linecap="butt"/>
<circle cx="236.30" cy="85.00" r="6.90" fill="#f0f0f0" stroke="none"/>
<circle cx="236.30" cy="142.00" r="6.90" fill="#f0f0f0" stroke="none"/>
</g>
</svg>
<div class="tab"></div>
<svg width="1200" height="1500" viewBox="0 0 1200 1500">
<g transform="" fill="none" stroke-width="11" stroke-miterlimit="10">
<path d="M83.50 53.60 A63.10 57.70 0 0 1 146.60 111.30 A63.10 57.70 0 0 1 83.50 53.60 Z" stroke="#fff" stroke-linejoin="miter"/>
<path d="M146.60 114.30 A63.10 59.20 0 0 1 83.50 173.50 A63.10 59.20 0 0 1 146.60 114.30 Z" stroke="#fff" stroke-linejoin="miter"/>
<path d="M157.60 111.30 A64.60 57.70 0 0 1 222.20 53.60 A64.60 57.70 0 0 1 157.60 111.30 Z" stroke="#fff" stroke-linejoin="miter"/>
<path d="M222.20 173.50 A64.60 59.20 0 0 1 157.60 114.30 A64.60 59.20 0 0 1 222.20 173.50 Z" stroke="#fff" stroke-linejoin="miter"/>
<path d="M237.13 56.57 A60.00 60.00 0 0 1 274.16 93.27" stroke="#fff" stroke-linecap="butt"/>
<path d="M221 113.5 L283.10 113.5" stroke="#fff" stroke-linecap="butt"/>
<path d="M277.60 113.30 A60.00 60.00 0 0 1 236.14 170.36" stroke="#fff" stroke-linecap="butt"/>
<circle cx="236.30" cy="85.00" r="6.90" fill="#fff" stroke="none"/>
<circle cx="236.30" cy="142.00" r="6.90" fill="#fff" stroke="none"/>
</g>
<g style="filter:drop-shadow(0 0 3px #fff) drop-shadow(0 0 5px #fff) drop-shadow(0 0 6px rgba(255,255,255,0.9))">
<ellipse cx="982.0" cy="55.0" rx="3.75" ry="5.00" fill="#6c1f98"/>
<ellipse cx="1012.2" cy="55.0" rx="3.75" ry="5.00" fill="#6c1f98"/>
<ellipse cx="1042.5" cy="55.0" rx="3.75" ry="5.00" fill="#6c1f98"/>
<ellipse cx="1072.8" cy="55.0" rx="3.75" ry="5.00" fill="#6c1f98"/>
<ellipse cx="1102.8" cy="55.0" rx="3.75" ry="5.00" fill="#6c1f98"/>
<ellipse cx="982.0" cy="73.0" rx="4.50" ry="5.50" fill="#6c1f98"/>
<ellipse cx="1012.2" cy="73.0" rx="4.50" ry="5.50" fill="#6c1f98"/>
<ellipse cx="1042.5" cy="73.0" rx="4.50" ry="5.50" fill="#6c1f98"/>
<ellipse cx="1072.8" cy="73.0" rx="4.50" ry="5.50" fill="#6c1f98"/>
<ellipse cx="1102.8" cy="73.0" rx="4.50" ry="5.50" fill="#6c1f98"/>
<ellipse cx="982.0" cy="93.0" rx="5.50" ry="6.25" fill="#6c1f98"/>
<ellipse cx="1012.2" cy="93.0" rx="5.50" ry="6.25" fill="#6c1f98"/>
<ellipse cx="1042.5" cy="93.0" rx="5.50" ry="6.25" fill="#6c1f98"/>
<ellipse cx="1072.8" cy="93.0" rx="5.50" ry="6.25" fill="#6c1f98"/>
<ellipse cx="1102.8" cy="93.0" rx="5.50" ry="6.25" fill="#6c1f98"/>
<ellipse cx="982.0" cy="114.2" rx="6.25" ry="7.00" fill="#6c1f98"/>
<ellipse cx="1012.2" cy="114.2" rx="6.25" ry="7.00" fill="#6c1f98"/>
<ellipse cx="1042.5" cy="114.2" rx="6.25" ry="7.00" fill="#6c1f98"/>
<ellipse cx="1072.8" cy="114.2" rx="6.25" ry="7.00" fill="#6c1f98"/>
<ellipse cx="1102.8" cy="114.2" rx="6.25" ry="7.00" fill="#6c1f98"/>
<ellipse cx="982.0" cy="138.3" rx="7.50" ry="8.00" fill="#6c1f98"/>
<ellipse cx="1012.2" cy="138.3" rx="7.50" ry="8.00" fill="#6c1f98"/>
<ellipse cx="1042.5" cy="138.3" rx="7.50" ry="8.00" fill="#6c1f98"/>
<ellipse cx="1072.8" cy="138.3" rx="7.50" ry="8.00" fill="#6c1f98"/>
<ellipse cx="1102.8" cy="138.3" rx="7.50" ry="8.00" fill="#6c1f98"/>
<ellipse cx="982.0" cy="164.2" rx="8.25" ry="8.75" fill="#6c1f98"/>
<ellipse cx="1012.2" cy="164.2" rx="8.25" ry="8.75" fill="#6c1f98"/>
<ellipse cx="1042.5" cy="164.2" rx="8.25" ry="8.75" fill="#6c1f98"/>
<ellipse cx="1072.8" cy="164.2" rx="8.25" ry="8.75" fill="#6c1f98"/>
<ellipse cx="1102.8" cy="164.2" rx="8.25" ry="8.75" fill="#6c1f98"/>
<ellipse cx="982.0" cy="191.7" rx="9.50" ry="10.00" fill="#f8cd0a"/>
<ellipse cx="1012.2" cy="191.7" rx="9.50" ry="10.00" fill="#f8cd0a"/>
<ellipse cx="1042.5" cy="191.7" rx="9.50" ry="10.00" fill="#f8cd0a"/>
<ellipse cx="1072.8" cy="191.7" rx="9.50" ry="10.00" fill="#f8cd0a"/>
<ellipse cx="1102.8" cy="191.7" rx="9.50" ry="10.00" fill="#f8cd0a"/>
<ellipse cx="982.0" cy="221.7" rx="10.50" ry="11.00" fill="#f8cd0a"/>
<ellipse cx="1012.2" cy="221.7" rx="10.50" ry="11.00" fill="#f8cd0a"/>
<ellipse cx="1042.5" cy="221.7" rx="10.50" ry="11.00" fill="#f8cd0a"/>
<ellipse cx="1072.8" cy="221.7" rx="10.50" ry="11.00" fill="#f8cd0a"/>
<ellipse cx="1102.8" cy="221.7" rx="10.50" ry="11.00" fill="#f8cd0a"/>
<ellipse cx="982.0" cy="253.3" rx="11.50" ry="12.00" fill="#f8cd0a"/>
<ellipse cx="1012.2" cy="253.3" rx="11.50" ry="12.00" fill="#f8cd0a"/>
<ellipse cx="1042.5" cy="253.3" rx="11.50" ry="12.00" fill="#f8cd0a"/>
<ellipse cx="1072.8" cy="253.3" rx="11.50" ry="12.00" fill="#f8cd0a"/>
<ellipse cx="1102.8" cy="253.3" rx="11.50" ry="12.00" fill="#f8cd0a"/>
</g>
<g style="filter:drop-shadow(0 0 3px #fff) drop-shadow(0 0 5px #fff) drop-shadow(0 0 6px rgba(255,255,255,0.85))">
<text x="203.5" y="639.3" font-family="Liberation Sans, Arial, sans-serif" font-weight="bold" font-size="29.2" letter-spacing="1.2" text-anchor="middle" fill="#050505">AGE</text>
<text x="413.5" y="639.3" font-family="Liberation Sans, Arial, sans-serif" font-weight="bold" font-size="29.2" letter-spacing="1.2" text-anchor="middle" fill="#050505">CHEST</text>
<text x="609.5" y="639.3" font-family="Liberation Sans, Arial, sans-serif" font-weight="bold" font-size="29.2" letter-spacing="1.2" text-anchor="middle" fill="#050505">SLEEVE</text>
<text x="819.9" y="623.2" font-family="Liberation Sans, Arial, sans-serif" font-weight="bold" font-size="29.2" letter-spacing="1.2" text-anchor="middle" fill="#050505">T-SHIRT</text>
<text x="819.9" y="655" font-family="Liberation Sans, Arial, sans-serif" font-weight="bold" font-size="29.2" letter-spacing="1.2" text-anchor="middle" fill="#050505">LENGTH</text>
<text x="1027.5" y="623.2" font-family="Liberation Sans, Arial, sans-serif" font-weight="bold" font-size="29.2" letter-spacing="1.2" text-anchor="middle" fill="#050505">TROUSER</text>
<text x="1027.5" y="655" font-family="Liberation Sans, Arial, sans-serif" font-weight="bold" font-size="29.2" letter-spacing="1.2" text-anchor="middle" fill="#050505">LENGTH</text>
<text x="203.0" y="773.1" font-family="Liberation Sans, Arial, sans-serif" font-weight="bold" font-size="28.9" letter-spacing="0.3" text-anchor="middle" fill="#050505">1-2 YEAR</text>
<text x="413.0" y="773.1" font-family="Liberation Sans, Arial, sans-serif" font-size="28.8" text-anchor="middle" fill="#050505">12</text>
<text x="609.0" y="773.1" font-family="Liberation Sans, Arial, sans-serif" font-size="28.8" text-anchor="middle" fill="#050505">12.5</text>
<text x="819.4" y="773.1" font-family="Liberation Sans, Arial, sans-serif" font-size="28.8" text-anchor="middle" fill="#050505">15.5</text>
<text x="1027.0" y="773.1" font-family="Liberation Sans, Arial, sans-serif" font-size="28.8" text-anchor="middle" fill="#050505">17</text>
<text x="203.0" y="865.1" font-family="Liberation Sans, Arial, sans-serif" font-weight="bold" font-size="28.9" letter-spacing="0.3" text-anchor="middle" fill="#050505">3-4 YEAR</text>
<text x="413.0" y="865.1" font-family="Liberation Sans, Arial, sans-serif" font-size="28.8" text-anchor="middle" fill="#050505">14</text>
<text x="609.0" y="865.1" font-family="Liberation Sans, Arial, sans-serif" font-size="28.8" text-anchor="middle" fill="#050505">13.5</text>
<text x="819.4" y="865.1" font-family="Liberation Sans, Arial, sans-serif" font-size="28.8" text-anchor="middle" fill="#050505">16.5</text>
<text x="1027.0" y="865.1" font-family="Liberation Sans, Arial, sans-serif" font-size="28.8" text-anchor="middle" fill="#050505">21</text>
<text x="203.0" y="957.1" font-family="Liberation Sans, Arial, sans-serif" font-weight="bold" font-size="28.9" letter-spacing="0.3" text-anchor="middle" fill="#050505">5-6 YEAR</text>
<text x="413.0" y="957.1" font-family="Liberation Sans, Arial, sans-serif" font-size="28.8" text-anchor="middle" fill="#050505">15</text>
<text x="609.0" y="957.1" font-family="Liberation Sans, Arial, sans-serif" font-size="28.8" text-anchor="middle" fill="#050505">15</text>
<text x="819.4" y="957.1" font-family="Liberation Sans, Arial, sans-serif" font-size="28.8" text-anchor="middle" fill="#050505">18</text>
<text x="1027.0" y="957.1" font-family="Liberation Sans, Arial, sans-serif" font-size="28.8" text-anchor="middle" fill="#050505">25</text>
<text x="203.0" y="1049.1" font-family="Liberation Sans, Arial, sans-serif" font-weight="bold" font-size="28.9" letter-spacing="0.3" text-anchor="middle" fill="#050505">7-8 YEAR</text>
<text x="413.0" y="1049.1" font-family="Liberation Sans, Arial, sans-serif" font-size="28.8" text-anchor="middle" fill="#050505">16.5</text>
<text x="609.0" y="1049.1" font-family="Liberation Sans, Arial, sans-serif" font-size="28.8" text-anchor="middle" fill="#050505">16</text>
<text x="819.4" y="1049.1" font-family="Liberation Sans, Arial, sans-serif" font-size="28.8" text-anchor="middle" fill="#050505">19</text>
<text x="1027.0" y="1049.1" font-family="Liberation Sans, Arial, sans-serif" font-size="28.8" text-anchor="middle" fill="#050505">28</text>
<text x="203.0" y="1141.1" font-family="Liberation Sans, Arial, sans-serif" font-weight="bold" font-size="28.9" letter-spacing="0.3" text-anchor="middle" fill="#050505">9-10 YEAR</text>
<text x="413.0" y="1141.1" font-family="Liberation Sans, Arial, sans-serif" font-size="28.8" text-anchor="middle" fill="#050505">17</text>
<text x="609.0" y="1141.1" font-family="Liberation Sans, Arial, sans-serif" font-size="28.8" text-anchor="middle" fill="#050505">17</text>
<text x="819.4" y="1141.1" font-family="Liberation Sans, Arial, sans-serif" font-size="28.8" text-anchor="middle" fill="#050505">20</text>
<text x="1027.0" y="1141.1" font-family="Liberation Sans, Arial, sans-serif" font-size="28.8" text-anchor="middle" fill="#050505">29</text>
<text x="203.0" y="1233.1" font-family="Liberation Sans, Arial, sans-serif" font-weight="bold" font-size="28.9" letter-spacing="0.3" text-anchor="middle" fill="#050505">11-12 YEAR</text>
<text x="413.0" y="1233.1" font-family="Liberation Sans, Arial, sans-serif" font-size="28.8" text-anchor="middle" fill="#050505">18</text>
<text x="609.0" y="1233.1" font-family="Liberation Sans, Arial, sans-serif" font-size="28.8" text-anchor="middle" fill="#050505">20.5</text>
<text x="819.4" y="1233.1" font-family="Liberation Sans, Arial, sans-serif" font-size="28.8" text-anchor="middle" fill="#050505">21.5</text>
<text x="1027.0" y="1233.1" font-family="Liberation Sans, Arial, sans-serif" font-size="28.8" text-anchor="middle" fill="#050505">32</text>
<text x="203.0" y="1325.1" font-family="Liberation Sans, Arial, sans-serif" font-weight="bold" font-size="28.9" letter-spacing="0.3" text-anchor="middle" fill="#050505">13-14 YEAR</text>
<text x="413.0" y="1325.1" font-family="Liberation Sans, Arial, sans-serif" font-size="28.8" text-anchor="middle" fill="#050505">19</text>
<text x="609.0" y="1325.1" font-family="Liberation Sans, Arial, sans-serif" font-size="28.8" text-anchor="middle" fill="#050505">21.5</text>
<text x="819.4" y="1325.1" font-family="Liberation Sans, Arial, sans-serif" font-size="28.8" text-anchor="middle" fill="#050505">22.5</text>
<text x="1027.0" y="1325.1" font-family="Liberation Sans, Arial, sans-serif" font-size="28.8" text-anchor="middle" fill="#050505">34</text>
</g>
</svg>
<div class="ttl"><h1 class="w1"><span style="transform:translate(543.00px,194.50px) rotate(0.00deg) scale(1.9273,1.9944) translate(-24.78px,-50.38px);text-shadow:1.30px 0.00px 0 #3d3f41,1.20px 0.48px 0 #3d3f41,0.92px 0.89px 0 #3d3f41,0.50px 1.16px 0 #3d3f41,0.00px 1.25px 0 #3d3f41,-0.50px 1.16px 0 #3d3f41,-0.92px 0.89px 0 #3d3f41,-1.20px 0.48px 0 #3d3f41,-1.30px 0.00px 0 #3d3f41,-1.20px -0.48px 0 #3d3f41,-0.92px -0.89px 0 #3d3f41,-0.50px -1.16px 0 #3d3f41,-0.00px -1.25px 0 #3d3f41,0.50px -1.16px 0 #3d3f41,0.92px -0.89px 0 #3d3f41,1.20px -0.48px 0 #3d3f41,0.60px 0.24px 0 #3d3f41,0.25px 0.58px 0 #3d3f41,-0.25px 0.58px 0 #3d3f41,-0.60px 0.24px 0 #3d3f41,-0.60px -0.24px 0 #3d3f41,-0.25px -0.58px 0 #3d3f41,0.25px -0.58px 0 #3d3f41,0.60px -0.24px 0 #3d3f41">S</span><span style="transform:translate(613.50px,192.00px) rotate(0.00deg) scale(1.4591,1.8275) translate(-15.16px,-49.89px);text-shadow:1.71px 0.00px 0 #3d3f41,1.58px 0.52px 0 #3d3f41,1.21px 0.97px 0 #3d3f41,0.66px 1.26px 0 #3d3f41,0.00px 1.37px 0 #3d3f41,-0.66px 1.26px 0 #3d3f41,-1.21px 0.97px 0 #3d3f41,-1.58px 0.52px 0 #3d3f41,-1.71px 0.00px 0 #3d3f41,-1.58px -0.52px 0 #3d3f41,-1.21px -0.97px 0 #3d3f41,-0.66px -1.26px 0 #3d3f41,-0.00px -1.37px 0 #3d3f41,0.66px -1.26px 0 #3d3f41,1.21px -0.97px 0 #3d3f41,1.58px -0.52px 0 #3d3f41,0.79px 0.26px 0 #3d3f41,0.33px 0.63px 0 #3d3f41,-0.33px 0.63px 0 #3d3f41,-0.79px 0.26px 0 #3d3f41,-0.79px -0.26px 0 #3d3f41,-0.33px -0.63px 0 #3d3f41,0.33px -0.63px 0 #3d3f41,0.79px -0.26px 0 #3d3f41">i</span><span style="transform:translate(651.00px,233.00px) rotate(0.00deg) scale(1.8336,2.2005) translate(-18.24px,-60.05px);text-shadow:1.36px 0.00px 0 #3d3f41,1.26px 0.43px 0 #3d3f41,0.96px 0.80px 0 #3d3f41,0.52px 1.05px 0 #3d3f41,0.00px 1.14px 0 #3d3f41,-0.52px 1.05px 0 #3d3f41,-0.96px 0.80px 0 #3d3f41,-1.26px 0.43px 0 #3d3f41,-1.36px 0.00px 0 #3d3f41,-1.26px -0.43px 0 #3d3f41,-0.96px -0.80px 0 #3d3f41,-0.52px -1.05px 0 #3d3f41,-0.00px -1.14px 0 #3d3f41,0.52px -1.05px 0 #3d3f41,0.96px -0.80px 0 #3d3f41,1.26px -0.43px 0 #3d3f41,0.63px 0.22px 0 #3d3f41,0.26px 0.52px 0 #3d3f41,-0.26px 0.52px 0 #3d3f41,-0.63px 0.22px 0 #3d3f41,-0.63px -0.22px 0 #3d3f41,-0.26px -0.52px 0 #3d3f41,0.26px -0.52px 0 #3d3f41,0.63px -0.22px 0 #3d3f41">z</span><span style="transform:translate(724.50px,223.50px) rotate(0.00deg) scale(1.7408,1.5386) translate(-22.61px,-59.93px);text-shadow:1.44px 0.00px 0 #3d3f41,1.33px 0.62px 0 #3d3f41,1.02px 1.15px 0 #3d3f41,0.55px 1.50px 0 #3d3f41,0.00px 1.62px 0 #3d3f41,-0.55px 1.50px 0 #3d3f41,-1.02px 1.15px 0 #3d3f41,-1.33px 0.62px 0 #3d3f41,-1.44px 0.00px 0 #3d3f41,-1.33px -0.62px 0 #3d3f41,-1.02px -1.15px 0 #3d3f41,-0.55px -1.50px 0 #3d3f41,-0.00px -1.62px 0 #3d3f41,0.55px -1.50px 0 #3d3f41,1.02px -1.15px 0 #3d3f41,1.33px -0.62px 0 #3d3f41,0.66px 0.31px 0 #3d3f41,0.27px 0.75px 0 #3d3f41,-0.27px 0.75px 0 #3d3f41,-0.66px 0.31px 0 #3d3f41,-0.66px -0.31px 0 #3d3f41,-0.27px -0.75px 0 #3d3f41,0.27px -0.75px 0 #3d3f41,0.66px -0.31px 0 #3d3f41">e</span></h1><h2 class="w2"><span style="transform:translate(420.49px,419.68px) rotate(-6.00deg) scale(1.2355,2.4931) translate(-34.74px,-50.38px);text-shadow:3.64px 0.00px 0 #202020,3.37px 0.69px 0 #202020,2.58px 1.28px 0 #202020,1.39px 1.67px 0 #202020,0.00px 1.80px 0 #202020,-1.39px 1.67px 0 #202020,-2.58px 1.28px 0 #202020,-3.37px 0.69px 0 #202020,-3.64px 0.00px 0 #202020,-3.37px -0.69px 0 #202020,-2.58px -1.28px 0 #202020,-1.39px -1.67px 0 #202020,-0.00px -1.80px 0 #202020,1.39px -1.67px 0 #202020,2.58px -1.28px 0 #202020,3.37px -0.69px 0 #202020,1.68px 0.35px 0 #202020,0.70px 0.83px 0 #202020,-0.70px 0.83px 0 #202020,-1.68px 0.35px 0 #202020,-1.68px -0.35px 0 #202020,-0.70px -0.83px 0 #202020,0.70px -0.83px 0 #202020,1.68px -0.35px 0 #202020">C</span><span style="transform:translate(524.00px,410.50px) rotate(-4.00deg) scale(1.2063,2.5067) translate(-38.92px,-50.26px);text-shadow:3.73px 0.00px 0 #202020,3.45px 0.69px 0 #202020,2.64px 1.27px 0 #202020,1.43px 1.66px 0 #202020,0.00px 1.80px 0 #202020,-1.43px 1.66px 0 #202020,-2.64px 1.27px 0 #202020,-3.45px 0.69px 0 #202020,-3.73px 0.00px 0 #202020,-3.45px -0.69px 0 #202020,-2.64px -1.27px 0 #202020,-1.43px -1.66px 0 #202020,-0.00px -1.80px 0 #202020,1.43px -1.66px 0 #202020,2.64px -1.27px 0 #202020,3.45px -0.69px 0 #202020,1.72px 0.34px 0 #202020,0.71px 0.83px 0 #202020,-0.71px 0.83px 0 #202020,-1.72px 0.34px 0 #202020,-1.72px -0.34px 0 #202020,-0.71px -0.83px 0 #202020,0.71px -0.83px 0 #202020,1.72px -0.34px 0 #202020">H</span><span style="transform:translate(627.50px,408.00px) rotate(0.00deg) scale(1.2197,2.4691) translate(-36.23px,-49.99px);text-shadow:3.69px 0.00px 0 #202020,3.41px 0.70px 0 #202020,2.61px 1.29px 0 #202020,1.41px 1.68px 0 #202020,0.00px 1.82px 0 #202020,-1.41px 1.68px 0 #202020,-2.61px 1.29px 0 #202020,-3.41px 0.70px 0 #202020,-3.69px 0.00px 0 #202020,-3.41px -0.70px 0 #202020,-2.61px -1.29px 0 #202020,-1.41px -1.68px 0 #202020,-0.00px -1.82px 0 #202020,1.41px -1.68px 0 #202020,2.61px -1.29px 0 #202020,3.41px -0.70px 0 #202020,1.70px 0.35px 0 #202020,0.71px 0.84px 0 #202020,-0.71px 0.84px 0 #202020,-1.70px 0.35px 0 #202020,-1.70px -0.35px 0 #202020,-0.71px -0.84px 0 #202020,0.71px -0.84px 0 #202020,1.70px -0.35px 0 #202020">A</span><span style="transform:translate(731.52px,411.50px) rotate(4.00deg) scale(1.2380,2.5082) translate(-37.40px,-50.26px);text-shadow:3.63px 0.00px 0 #202020,3.36px 0.69px 0 #202020,2.57px 1.27px 0 #202020,1.39px 1.66px 0 #202020,0.00px 1.79px 0 #202020,-1.39px 1.66px 0 #202020,-2.57px 1.27px 0 #202020,-3.36px 0.69px 0 #202020,-3.63px 0.00px 0 #202020,-3.36px -0.69px 0 #202020,-2.57px -1.27px 0 #202020,-1.39px -1.66px 0 #202020,-0.00px -1.79px 0 #202020,1.39px -1.66px 0 #202020,2.57px -1.27px 0 #202020,3.36px -0.69px 0 #202020,1.68px 0.34px 0 #202020,0.70px 0.83px 0 #202020,-0.70px 0.83px 0 #202020,-1.68px 0.34px 0 #202020,-1.68px -0.34px 0 #202020,-0.70px -0.83px 0 #202020,0.70px -0.83px 0 #202020,1.68px -0.34px 0 #202020">R</span><span style="transform:translate(832.88px,423.20px) rotate(8.00deg) scale(1.2491,2.4728) translate(-33.37px,-50.26px);text-shadow:3.60px 0.00px 0 #202020,3.33px 0.70px 0 #202020,2.55px 1.29px 0 #202020,1.38px 1.68px 0 #202020,0.00px 1.82px 0 #202020,-1.38px 1.68px 0 #202020,-2.55px 1.29px 0 #202020,-3.33px 0.70px 0 #202020,-3.60px 0.00px 0 #202020,-3.33px -0.70px 0 #202020,-2.55px -1.29px 0 #202020,-1.38px -1.68px 0 #202020,-0.00px -1.82px 0 #202020,1.38px -1.68px 0 #202020,2.55px -1.29px 0 #202020,3.33px -0.70px 0 #202020,1.66px 0.35px 0 #202020,0.69px 0.84px 0 #202020,-0.69px 0.84px 0 #202020,-1.66px 0.35px 0 #202020,-1.66px -0.35px 0 #202020,-0.69px -0.84px 0 #202020,0.69px -0.84px 0 #202020,1.66px -0.35px 0 #202020">T</span></h2></div>
<div class="brand"><b>BBG</b> <span>FASHION</span></div>
<div class="url">www.bbgfashion.pk</div>
</body></html>
